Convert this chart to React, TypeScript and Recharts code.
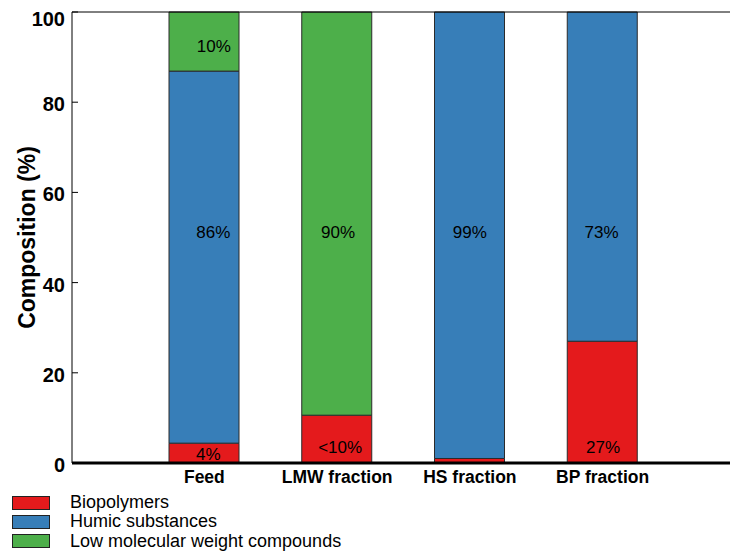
import {
  ComposedChart,
  Bar,
  XAxis,
  YAxis,
  ReferenceLine,
  ReferenceDot,
  Legend,
} from "recharts";

const categories = ["Feed", "LMW fraction", "HS fraction", "BP fraction"];
const biopolymers = [4.4, 10.6, 1, 27];
const humic = [82.5, 0, 99, 73];
const lowMw = [13.1, 89.4, 0, 0];

// annotations printed inside the bars (text, height in %, horizontal nudge)
const labelText = ["10%", "86%", "4%", "90%", "<10%", "99%", "73%", "27%"];
const labelCat = ["Feed", "Feed", "Feed", "LMW fraction", "LMW fraction", "HS fraction", "BP fraction", "BP fraction"];
const labelAt = [92.3, 51, 1.9, 51, 3.5, 51, 51, 3.5];
const labelNudge = [9.5, 9, 4, 1, 3, 0, -1, 0.5];

const yTicks = [0, 20, 40, 60, 80, 100];

const RED = "#e41a1c";
const BLUE = "#377eb8";
const GREEN = "#4daf4a";
const EDGE = "#2b2b2b";
const FONT = "'Liberation Sans', Arial, sans-serif";

const data = categories.map((name, i) => ({
  name,
  bio: biopolymers[i],
  hs: humic[i],
  lmw: lowMw[i],
}));

const legendItems = [
  { label: "Biopolymers", color: RED },
  { label: "Humic substances", color: BLUE },
  { label: "Low molecular weight compounds", color: GREEN },
];

function LeftTick(props: any) {
  const { x, y, payload } = props;
  const ty = Math.max(y + 2, 19);
  return (
    <g>
      <line x1={x + 7} x2={x + 13} y1={y} y2={y} stroke="#000" strokeWidth={1} />
      <text
        x={x}
        y={ty}
        textAnchor="end"
        dominantBaseline="central"
        fontFamily={FONT}
        fontWeight="bold"
        fontSize={20}
        fill="#000"
      >
        {payload.value}
      </text>
    </g>
  );
}

// the frame's right side sits just past the picture edge; only its inward ticks show
function RightTick(props: any) {
  const { x, y } = props;
  return <line x1={x - 4} x2={x + 2} y1={y} y2={y} stroke="#000" strokeWidth={1} />;
}

function LegendBox() {
  return (
    <div style={{ fontFamily: FONT, fontSize: 18, color: "#000" }}>
      {legendItems.map((it) => (
        <div key={it.label} style={{ display: "flex", alignItems: "center", height: 19.3 }}>
          <div
            style={{
              width: 36,
              height: 12,
              background: it.color,
              border: "1px solid #222",
              marginRight: 20,
            }}
          />
          <span style={{ lineHeight: "19px" }}>{it.label}</span>
        </div>
      ))}
    </div>
  );
}

export default function App() {
  return (
    <div
      style={{
        position: "fixed",
        left: 0,
        top: 0,
        width: 731,
        height: 555,
        overflow: "hidden",
        background: "#fff",
      }}
    >
      <ComposedChart
        width={731}
        height={555}
        data={data}
        margin={{ top: 12, right: 0, left: 0, bottom: 62 }}
      >
        <XAxis
          dataKey="name"
          interval={0}
          height={30}
          tickLine={false}
          tickSize={0}
          tickMargin={8}
          padding={{ left: 66, right: 61 }}
          axisLine={{ stroke: "#000", strokeWidth: 3 }}
          tick={{ fontFamily: FONT, fontWeight: "bold", fontSize: 17.5, fill: "#000" }}
        />
        <YAxis
          domain={[0, 100]}
          ticks={yTicks}
          width={72}
          tickLine={false}
          tickSize={0}
          tickMargin={7}
          axisLine={{ stroke: "#000" }}
          tick={<LeftTick />}
          label={{
            content: (p: any) => {
              const vb = p.viewBox;
              const cx = vb.x + 27;
              const cy = vb.y + vb.height / 2;
              return (
                <text
                  x={cx}
                  y={cy}
                  transform={`rotate(-90 ${cx} ${cy})`}
                  textAnchor="middle"
                  dominantBaseline="central"
                  fontFamily={FONT}
                  fontWeight="bold"
                  fontSize={23}
                  fill="#000"
                >
                  Composition (%)
                </text>
              );
            },
          }}
        />
        <YAxis
          yAxisId="right"
          orientation="right"
          domain={[0, 100]}
          ticks={yTicks}
          width={1}
          tickLine={false}
          tickSize={0}
          tickMargin={0}
          axisLine={false}
          tick={<RightTick />}
        />
        <Bar dataKey="bio" stackId="a" fill={RED} stroke={EDGE} barSize={70} isAnimationActive={false} />
        <Bar dataKey="hs" stackId="a" fill={BLUE} stroke={EDGE} barSize={70} isAnimationActive={false} />
        <Bar dataKey="lmw" stackId="a" fill={GREEN} stroke={EDGE} barSize={70} isAnimationActive={false} />
        <ReferenceLine y={100} stroke="#000" strokeWidth={1} />
        {labelText.map((t, i) => (
          <ReferenceDot
            key={i}
            x={labelCat[i]}
            y={labelAt[i]}
            r={0}
            ifOverflow="visible"
            shape={(p: any) => (
              <text
                x={p.cx + labelNudge[i]}
                y={p.cy}
                textAnchor="middle"
                dominantBaseline="central"
                fontFamily={FONT}
                fontSize={17}
                fill="#000"
              >
                {t}
              </text>
            )}
          />
        ))}
        <Legend
          layout="vertical"
          align="center"
          verticalAlign="middle"
          content={() => <LegendBox />}
          wrapperStyle={{ left: 12, top: 493, width: 400, height: 60 }}
        />
      </ComposedChart>
    </div>
  );
}
